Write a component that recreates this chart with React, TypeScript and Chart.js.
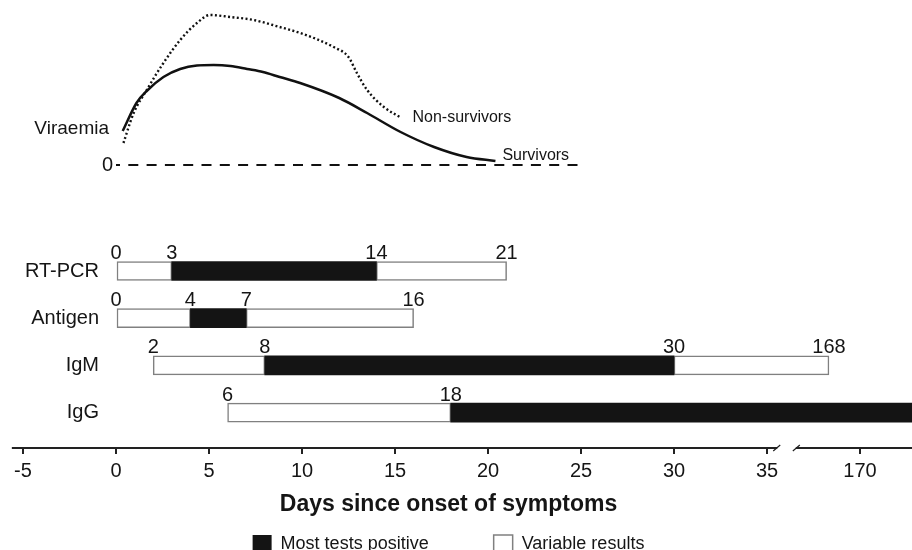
import React, { useEffect, useRef } from 'react';
import { Chart, LinearScale, registerables } from 'chart.js';

Chart.register(...registerables);

// ---------------- data ----------------
const ROWS = ['RT-PCR', 'Antigen', 'IgM', 'IgG'];
const POSITIVE_START = [3, 4, 8, 18];
const POSITIVE_END = [14, 7, 30, 200];
const VARIABLE_SEGMENTS = [
  [[0, 3], [14, 21]],
  [[0, 4], [7, 16]],
  [[2, 8], [30, 168]],
  [[6, 18]],
];
const BOUNDARY_LABELS = [
  [0, 3, 14, 21],
  [0, 4, 7, 16],
  [2, 8, 30, 168],
  [6, 18],
];
const TICK_DAYS = [-5, 0, 5, 10, 15, 20, 25, 30, 35, 170];

const SURV_DAYS = [0.36, 1.1, 1.65, 2.55, 3.45, 4.35, 5.25, 6.15, 7.05, 7.9, 8.8, 9.9, 12.0, 13.5, 15.3, 17.1, 18.85, 20.4];
const SURV_VIRAEMIA = [3.4, 6.2, 7.4, 8.8, 9.6, 9.95, 10.0, 9.9, 9.6, 9.3, 8.8, 8.2, 6.7, 5.2, 3.3, 1.8, 0.8, 0.4];

const NONSURV_DAYS = [0.4, 0.95, 1.65, 2.55, 3.45, 4.35, 5.05, 6.15, 7.4, 8.8, 9.9, 11.7, 12.5, 12.95, 13.5, 14.4, 15.35];
const NONSURV_VIRAEMIA = [2.2, 5.2, 7.5, 10.2, 12.5, 14.2, 15.0, 14.8, 14.5, 13.8, 13.2, 11.8, 10.8, 9.2, 7.5, 5.8, 4.7];

const ZERO_DAYS = [0, 25];
const ZERO_VALUES = [0, 0];

const LEGEND_LABELS = ['Most tests positive', 'Variable results'];
const AXIS_TITLE = 'Days since onset of symptoms';
const Y_LABEL = 'Viraemia';
const ZERO_LABEL = '0';
const SURV_LABEL = 'Survivors';
const NONSURV_LABEL = 'Non-survivors';

// ---------------- styling / layout constants ----------------
const FONT = "'Liberation Sans', Arial, Helvetica, sans-serif";
const TEXT = '#151515';
const BAR = 19;

const BREAK_LOW = 35;
const BREAK_HIGH = 170;
const BREAK_POSITION = 40;
const POST_BREAK_SCALE = 0.835;

function dayToPosition(d: number) {
  return d <= BREAK_LOW ? d : BREAK_POSITION + (d - BREAK_HIGH) * POST_BREAK_SCALE;
}

class BrokenDayScale extends LinearScale {
  static id = 'brokenDays';
  static defaults = {};
  getPixelForValue(value: number) {
    return super.getPixelForValue(dayToPosition(value));
  }
}
Chart.register(BrokenDayScale);

Chart.defaults.font.family = FONT;

const overlay = {
  id: 'overlay',
  afterDatasetsDraw(chart: any) {
    const { ctx } = chart;
    const x = chart.scales.x;
    const yB = chart.scales.yBars;
    const yV = chart.scales.yV;
    const x0 = x.getPixelForValue(0);
    ctx.save();
    ctx.fillStyle = TEXT;

    ctx.font = `20px ${FONT}`;
    ctx.textAlign = 'right';
    ctx.textBaseline = 'middle';
    ROWS.forEach((r, i) => ctx.fillText(r, x0 - 17, yB.getPixelForValue(i)));

    ctx.textAlign = 'center';
    ctx.textBaseline = 'alphabetic';
    BOUNDARY_LABELS.forEach((vals, i) => {
      const top = yB.getPixelForValue(i) - BAR / 2;
      vals.forEach((v) => ctx.fillText(String(v), x.getPixelForValue(v), top - 2.5));
    });

    ctx.textAlign = 'right';
    ctx.textBaseline = 'middle';
    ctx.font = `19px ${FONT}`;
    ctx.fillText(Y_LABEL, x0 - 7, yV.getPixelForValue(3.6));
    ctx.font = `20px ${FONT}`;
    ctx.fillText(ZERO_LABEL, x0 - 3, yV.getPixelForValue(0));

    ctx.font = `16px ${FONT}`;
    ctx.textAlign = 'left';
    const nl = NONSURV_DAYS.length - 1;
    ctx.fillText(NONSURV_LABEL, x.getPixelForValue(NONSURV_DAYS[nl]) + 11, yV.getPixelForValue(NONSURV_VIRAEMIA[nl]));
    const sl = SURV_DAYS.length - 1;
    ctx.fillText(SURV_LABEL, x.getPixelForValue(SURV_DAYS[sl]) + 7, yV.getPixelForValue(SURV_VIRAEMIA[sl]) - 5);
    ctx.restore();
  },
  afterDraw(chart: any) {
    const { ctx } = chart;
    const x = chart.scales.x;
    const y = x.top + 1;
    const p35 = x.getPixelForValue(BREAK_LOW);
    const p170 = x.getPixelForValue(BREAK_HIGH);
    const gapStart = p35 + (p170 - p35) * 0.11;
    const gapEnd = p35 + (p170 - p35) * 0.31;
    ctx.save();
    ctx.strokeStyle = '#222';
    ctx.lineWidth = 2;
    ctx.beginPath();
    ctx.moveTo(x.getPixelForValue(-5.6), y);
    ctx.lineTo(gapStart, y);
    ctx.moveTo(gapEnd, y);
    ctx.lineTo(chart.width, y);
    ctx.stroke();
    ctx.lineWidth = 1.2;
    ctx.beginPath();
    ctx.moveTo(gapStart - 4, y + 3);
    ctx.lineTo(gapStart + 3, y - 3);
    ctx.moveTo(gapEnd - 3, y + 3);
    ctx.lineTo(gapEnd + 4, y - 3);
    ctx.stroke();
    ctx.restore();
  },
};

export default function App() {
  const ref = useRef<HTMLCanvasElement>(null);
  useEffect(() => {
    const positiveData = ROWS.map((_, i) => ({ y: i, x: [POSITIVE_START[i], POSITIVE_END[i]] }));
    const variableData = VARIABLE_SEGMENTS.flatMap((segs, i) => segs.map((s) => ({ y: i, x: s })));
    const survData = SURV_DAYS.map((d, i) => ({ x: d, y: SURV_VIRAEMIA[i] }));
    const nonSurvData = NONSURV_DAYS.map((d, i) => ({ x: d, y: NONSURV_VIRAEMIA[i] }));
    const zeroData = ZERO_DAYS.map((d, i) => ({ x: d, y: ZERO_VALUES[i] }));

    const barCommon = {
      type: 'bar',
      indexAxis: 'y',
      xAxisID: 'x',
      yAxisID: 'yBars',
      grouped: false,
      maxBarThickness: BAR,
      barPercentage: 1,
      categoryPercentage: 1,
      clip: { left: 0, top: 0, right: 15, bottom: 0 },
    };

    const chart = new Chart(ref.current as HTMLCanvasElement, {
      type: 'bar',
      data: {
        datasets: [
          { ...barCommon, label: LEGEND_LABELS[0], data: positiveData, backgroundColor: '#141414', borderWidth: 0 },
          {
            ...barCommon,
            label: LEGEND_LABELS[1],
            data: variableData,
            backgroundColor: '#ffffff',
            borderColor: '#808080',
            borderWidth: 1.5,
            borderSkipped: false,
          },
          {
            type: 'line',
            label: SURV_LABEL,
            xAxisID: 'x',
            yAxisID: 'yV',
            data: survData,
            borderColor: '#111',
            borderWidth: 2.5,
            pointRadius: 0,
            cubicInterpolationMode: 'monotone',
            fill: false,
          },
          {
            type: 'line',
            label: NONSURV_LABEL,
            xAxisID: 'x',
            yAxisID: 'yV',
            data: nonSurvData,
            borderColor: '#111',
            borderWidth: 2.4,
            borderDash: [2, 2.4],
            pointRadius: 0,
            cubicInterpolationMode: 'monotone',
            fill: false,
          },
          {
            type: 'line',
            label: 'zero',
            xAxisID: 'x',
            yAxisID: 'yV',
            data: zeroData,
            borderColor: '#111',
            borderWidth: 2,
            borderDash: [10, 8.3],
            borderDashOffset: 6,
            pointRadius: 0,
            fill: false,
          },
        ],
      } as any,
      options: {
        responsive: false,
        animation: false,
        devicePixelRatio: 1,
        events: [],
        layout: { autoPadding: false, padding: { left: 0, right: 15, top: 0, bottom: 0 } },
        scales: {
          x: {
            type: 'brokenDays',
            axis: 'x',
            position: 'bottom',
            min: -6.2366,
            max: 41.9892,
            offset: false,
            grid: { display: true, drawOnChartArea: false, drawTicks: true, tickLength: 7, color: '#222', lineWidth: 2, offset: false },
            border: { display: false },
            afterBuildTicks: (scale: any) => {
              scale.ticks = TICK_DAYS.map((v) => ({ value: v }));
            },
            ticks: {
              autoSkip: false,
              maxRotation: 0,
              padding: 5,
              color: TEXT,
              font: { size: 20, family: FONT },
              callback: (v: any) => String(v),
            },
            title: {
              display: true,
              text: AXIS_TITLE,
              color: TEXT,
              font: { size: 23, weight: 'bold', family: FONT },
              padding: { top: 3.2, bottom: -35.8 },
            },
          },
          yBars: {
            type: 'linear',
            axis: 'y',
            display: false,
            reverse: true,
            min: -5.7415,
            max: 3.7288,
            offset: false,
            grid: { offset: false },
            ticks: { stepSize: 1 },
          },
          yV: {
            type: 'linear',
            axis: 'y',
            display: false,
            min: -28.2,
            max: 16.5,
            offset: false,
            grid: { offset: false },
          },
        },
        plugins: {
          tooltip: { enabled: false },
          legend: {
            position: 'bottom',
            maxHeight: 67,
            title: { display: true, text: '', font: { size: 10 }, padding: { top: 0, bottom: -25 } },
            labels: {
              boxWidth: 19,
              boxHeight: 19,
              padding: 65,
              color: TEXT,
              font: { size: 18, family: FONT },
              filter: (item: any) => item.datasetIndex < 2,
            },
          },
        },
      } as any,
      plugins: [overlay],
    });
    return () => chart.destroy();
  }, []);

  return (
    <div style={{ position: 'absolute', left: 0, top: 0, width: 912, height: 550, overflow: 'hidden', background: '#fff' }}>
      <canvas ref={ref} width={912} height={550} style={{ display: 'block', width: 912, height: 550 }} />
    </div>
  );
}
